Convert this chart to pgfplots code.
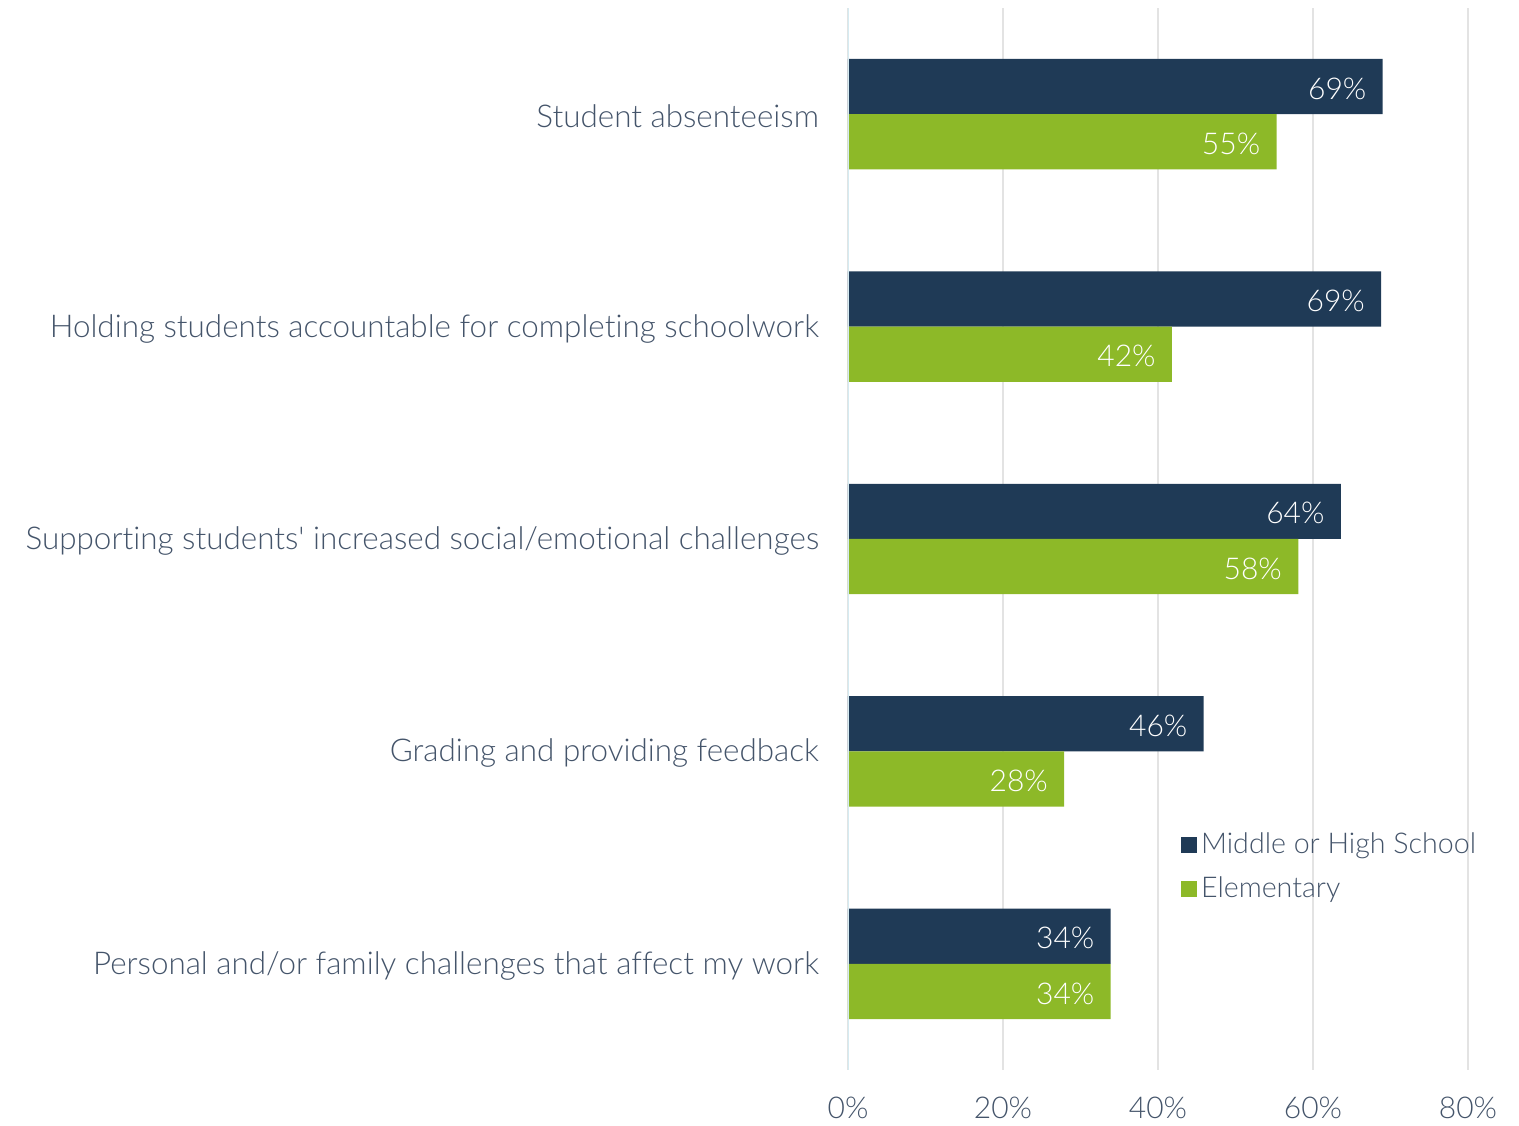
\documentclass[border=0pt]{standalone}
\usepackage{pgfplots}
\pgfplotsset{compat=1.18}
\usepackage{fontspec}
\setmainfont{Lato Light}[Ligatures={NoCommon}]
\definecolor{navy}{HTML}{1F3A56}
\definecolor{grn}{HTML}{8DB928}
\definecolor{txt}{HTML}{44546A}
\definecolor{gridc}{HTML}{E3E3E3}
\definecolor{axc}{HTML}{D5EBF2}
\begin{document}
\begin{tikzpicture}
\begin{axis}[
  at={(0,0)}, anchor=south west,
  scale only axis, width=310pt, height=531pt,
  xbar, bar width=0.26,
  xmin=0, xmax=80, ymin=-0.5, ymax=4.5,
  /pgf/number format/assume math mode=true,
  xtick={0,20,40,60,80},
  xticklabel={\pgfmathprintnumber{\tick}\%},
  ytick={0,1,2,3,4},
  yticklabels={Personal and/or family challenges that affect my work,
               Grading and providing feedback,
               Supporting students\textquotesingle{} increased social/emotional challenges,
               Holding students accountable for completing schoolwork,
               Student absenteeism},
  axis line style={draw=none},
  major tick length=0pt,
  xmajorgrids, grid style={gridc, line width=0.8pt},
  ymajorgrids=false,
  yticklabel style={font=\fontsize{15.7}{19}\selectfont, text=txt, xshift=-11pt, yshift=-1pt},
  xticklabel style={font=\fontsize{15}{18}\selectfont, text=txt, yshift=-10pt},
  point meta=x,
  nodes near coords={\pgfmathprintnumber[fixed,precision=0]{\pgfplotspointmeta}\%},
  nodes near coords style={anchor=east, text=white, inner sep=0pt, xshift=-8pt, yshift=-1pt, font=\fontsize{15}{18}\selectfont},
  legend style={draw=none, fill=none, at={(0.527,0.231)}, anchor=north west,
    font=\fontsize{14.3}{17}\selectfont, text=txt, row sep=6pt,
    legend cell align=left},
  legend image code/.code={\fill[#1] (0pt,-4pt) rectangle (8pt,4pt);},
]
\addplot[draw=none, fill=navy, bar shift=0.13] coordinates {
  (33.9,0) (45.9,1) (63.6,2) (68.8,3) (69.0,4)};
\addlegendentry{Middle or High School}
\addplot[draw=none, fill=grn, bar shift=-0.13] coordinates {
  (33.9,0) (27.9,1) (58.1,2) (41.8,3) (55.3,4)};
\addlegendentry{Elementary}
\draw[axc, line width=1pt] (axis cs:0,-0.5) -- (axis cs:0,4.5);
\end{axis}
\path (-424pt,-26.5pt) rectangle (335.5pt,535pt);
\end{tikzpicture}
\end{document}
